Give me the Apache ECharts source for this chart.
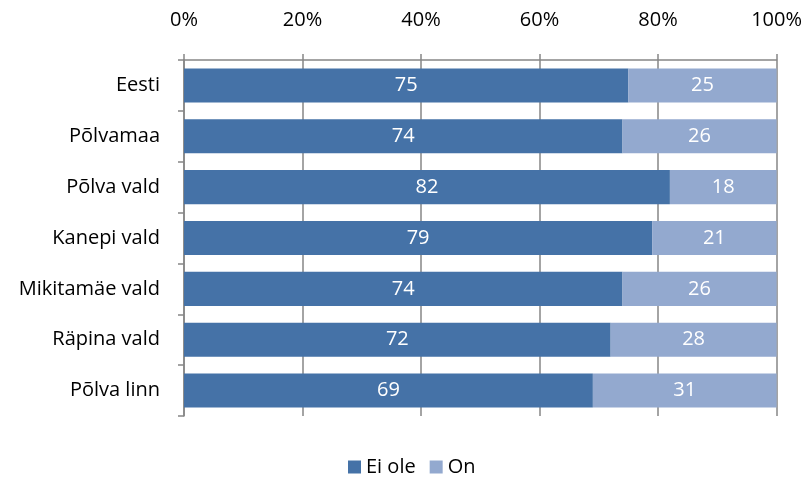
<!DOCTYPE html>
<html>
<head>
<meta charset="utf-8">
<script src="https://cdn.jsdelivr.net/npm/echarts@6/dist/echarts.min.js"></script>
<style>
  html, body { margin: 0; padding: 0; background: #fff; }
  #chart { width: 805px; height: 477px; }
</style>
</head>
<body>
<div id="chart"></div>
<script>
const categories = ['Eesti', 'Põlvamaa', 'Põlva vald', 'Kanepi vald', 'Mikitamäe vald', 'Räpina vald', 'Põlva linn']
const eiOle = [75, 74, 82, 79, 74, 72, 69]
const on = [25, 26, 18, 21, 26, 28, 31]
const seriesNames = ['Ei ole', 'On']

const font = 'Open Sans'
const chart = echarts.init(document.getElementById('chart'))

const label = {
  show: true,
  position: 'inside',
  color: '#fff',
  fontFamily: font,
  fontSize: 20
}

chart.setOption({
  animation: false,
  textStyle: { fontFamily: font },
  grid: { left: 184, right: 27, top: 60, bottom: 61 },
  legend: {
    top: 452,
    left: 343,
    itemWidth: 13,
    itemHeight: 13,
    itemGap: 14,
    icon: 'rect',
    textStyle: { fontFamily: font, fontSize: 20, color: '#000' },
    data: seriesNames
  },
  xAxis: {
    type: 'value',
    position: 'top',
    min: 0,
    max: 100,
    interval: 20,
    axisLine: { show: true, lineStyle: { color: '#868686', width: 1.5 } },
    axisTick: { show: true, length: 6, lineStyle: { color: '#868686', width: 1.5 } },
    axisLabel: { formatter: '{value}%', color: '#000', fontSize: 20, margin: 30 },
    splitLine: { show: true, lineStyle: { color: '#868686', width: 1.5 } }
  },
  yAxis: {
    type: 'category',
    inverse: true,
    data: categories,
    axisLine: { show: true, lineStyle: { color: '#868686', width: 1.5 } },
    axisTick: { show: true, length: 6, lineStyle: { color: '#868686', width: 1.5 } },
    axisLabel: { color: '#000', fontSize: 20, margin: 24 }
  },
  series: [
    {
      name: seriesNames[0],
      type: 'bar',
      stack: 'total',
      barWidth: '67%',
      data: eiOle,
      itemStyle: { color: '#4572A7' },
      label
    },
    {
      name: seriesNames[1],
      type: 'bar',
      stack: 'total',
      data: on,
      itemStyle: { color: '#93A9CF' },
      label
    }
  ]
})
</script>
</body>
</html>
